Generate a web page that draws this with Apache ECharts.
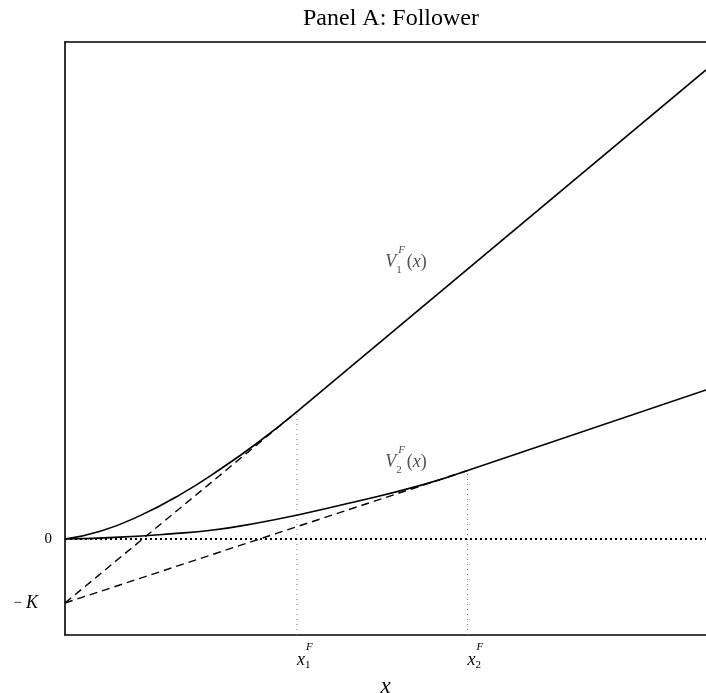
<!DOCTYPE html>
<html>
<head>
<meta charset="utf-8">
<script src="https://cdn.jsdelivr.net/npm/echarts@6/dist/echarts.min.js"></script>
<style>html,body{margin:0;padding:0;background:#fff;}#c{width:706px;height:693px;}</style>
</head>
<body>
<div id="c"></div>
<script>
// ---- data (x in model units, y in units of K) ----
const xTicks = [3.62, 6.28];          // x1F, x2F
const yTicks = [-1, 0];               // -K, 0
const v1Curve = [[0,0],[0.55,0.12],[1.17,0.365],[1.79,0.69],[2.42,1.09],[3.0,1.50],[3.62,1.99]];
const v1Line  = [[3.62,1.99],[10,7.33]];
const v2Curve = [[0,0],[0.86,0.03],[1.64,0.08],[2.31,0.14],[3.0,0.25],[3.63,0.375],[4.56,0.59],[5.59,0.85],[6.28,1.07]];
const v2Line  = [[6.28,1.07],[10,2.33]];
const npv1 = [[0,-1],[3.62,1.99]];
const npv2 = [[0,-1],[6.28,1.07]];
const zeroLine = [[0,0],[10,0]];
const drop1 = [[3.62,-1.5],[3.62,1.99]];
const drop2 = [[6.28,-1.5],[6.28,1.07]];
const curveLabels = [{name:'1', value:[5.32,4.34]}, {name:'2', value:[5.32,1.22]}];

const SERIF = '"Liberation Serif","DejaVu Serif",serif';
const chart = echarts.init(document.getElementById('c'), null, {renderer:'canvas'});

const solid = {color:'#000', width:1.6, type:'solid'};
const dashed = {color:'#000', width:1.4, type:[8,5]};

function line(data, style, smooth, z){
  return {type:'line', data:data, showSymbol:false, symbol:'none', smooth:smooth||false,
          lineStyle:style, z:z||2, silent:true, animation:false};
}

chart.setOption({
  animation:false,
  backgroundColor:'#fff',
  title:{text:'Panel A: Follower', left:386, top:2, textAlign:'center',
         textStyle:{fontFamily:SERIF, fontWeight:'normal', fontSize:24, color:'#000'}},
  grid:{left:65, right:0, top:42, bottom:58, containLabel:false, outerBoundsMode:'none'},
  xAxis:[{
    type:'value', min:0, max:10, position:'bottom',
    axisLine:{show:true, onZero:false, lineStyle:{color:'#000', width:1.6}},
    axisTick:{show:false}, splitLine:{show:false},
    name:'x', nameLocation:'middle', nameGap:40, nameMoveOverlap:false,
    nameTextStyle:{fontFamily:SERIF, fontStyle:'italic', fontSize:23, color:'#000'},
    axisLabel:{
      customValues:xTicks, align:'left', margin:8, showMinLabel:true, showMaxLabel:true,
      formatter:function(v){ const i = xTicks.indexOf(v)+1; return '{sup|F}\n{x|x}{sub|'+i+'}'; },
      rich:{
        sup:{fontFamily:SERIF, fontStyle:'italic', fontSize:11, color:'#000', lineHeight:8, padding:[0,0,0,9]},
        x:{fontFamily:SERIF, fontStyle:'italic', fontSize:18, color:'#000', lineHeight:16, verticalAlign:'top'},
        sub:{fontFamily:SERIF, fontSize:11, color:'#000', lineHeight:20, verticalAlign:'bottom'}
      }
    }
  },{
    type:'value', min:0, max:10, position:'top',
    axisLine:{show:true, onZero:false, lineStyle:{color:'#000', width:1.6}},
    axisTick:{show:false}, axisLabel:{show:false}, splitLine:{show:false}
  }],
  yAxis:{
    type:'value', min:-1.5, max:7.766,
    axisLine:{show:true, onZero:false, lineStyle:{color:'#000', width:1.6}},
    axisTick:{show:false}, splitLine:{show:false},
    axisLabel:{
      customValues:yTicks, margin:13,
      formatter:function(v){ return v===0 ? '{n|0}' : '{m|\u2212}{k|K}'; },
      rich:{
        n:{fontFamily:SERIF, fontSize:15, color:'#000'},
        m:{fontFamily:SERIF, fontSize:15, color:'#000', padding:[0,4,0,0]},
        k:{fontFamily:SERIF, fontStyle:'italic', fontSize:18, color:'#000', padding:[0,14,0,0]}
      }
    }
  },
  series:[
    line(drop1, {color:'#777', width:1, type:[1,4]}, false, 1),
    line(drop2, {color:'#777', width:1, type:[1,4]}, false, 1),
    line(zeroLine, {color:'#000', width:2, type:[2,3]}, false, 1),
    line(npv1, dashed, false, 2),
    line(npv2, dashed, false, 2),
    line(v1Curve, solid, 0.5, 3),
    line(v1Line, solid, false, 3),
    line(v2Curve, solid, 0.5, 3),
    line(v2Line, solid, false, 3),
    {type:'scatter', data:curveLabels, symbolSize:0, silent:true, z:4,
     label:{show:true, position:'inside', align:'center', verticalAlign:'middle',
       formatter:function(p){ return '{sup|F}\n{v|V}{sub|'+p.name+'}{p|(}{vi|x}{p|)}'; },
       rich:{
         sup:{fontFamily:SERIF, fontStyle:'italic', fontSize:11, color:'#222', lineHeight:7, padding:[0,0,0,13], align:'left'},
         v:{fontFamily:SERIF, fontStyle:'italic', fontSize:18, color:'#222', lineHeight:18, verticalAlign:'top'},
         sub:{fontFamily:SERIF, fontSize:11, color:'#222', lineHeight:22, verticalAlign:'bottom', padding:[0,5,0,0]},
         p:{fontFamily:SERIF, fontSize:18, color:'#222', lineHeight:18, verticalAlign:'top'},
         vi:{fontFamily:SERIF, fontStyle:'italic', fontSize:18, color:'#222', lineHeight:18, verticalAlign:'top'}
       }}}
  ]
});
</script>
</body>
</html>
